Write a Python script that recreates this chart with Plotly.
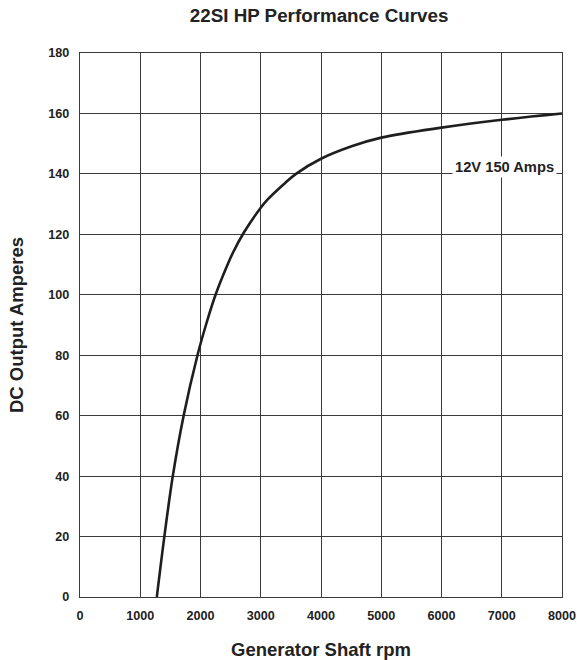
import plotly.graph_objects as go

# curve (rpm vs DC output amps)
rpm = [1275, 1400, 1540, 1720, 1950, 2090, 2250, 2450, 2540, 2720, 3000, 3108, 3405, 3585, 4000, 4520, 5000, 6000, 7000, 8000]
amps = [0, 20, 40, 60, 80, 90, 100, 110, 114, 120.6, 128.8, 131.4, 137, 140, 145, 149.2, 152, 155.3, 157.9, 160]

x_ticks = [0, 1000, 2000, 3000, 4000, 5000, 6000, 7000, 8000]
y_ticks = [0, 20, 40, 60, 80, 100, 120, 140, 160, 180]

label_text = "12V 150 Amps"
label_rpm = 7040
label_amps = 140

font_family = "Liberation Sans, Arial, Helvetica, sans-serif"
grid_col = "#3a3a3a"
text_col = "#222"

fig = go.Figure()
fig.add_trace(go.Scatter(x=rpm, y=amps, mode="lines",
                         line=dict(color="#1e1e1e", width=2.6, shape="spline", smoothing=1.0),
                         showlegend=False, hoverinfo="skip"))

fig.add_annotation(x=label_rpm, y=label_amps, text="<b>" + label_text + "</b>",
                   showarrow=False, xanchor="center", yanchor="middle", yshift=7,
                   bgcolor="white", borderpad=2,
                   font=dict(family=font_family, size=14.7, color=text_col))

fig.update_xaxes(range=[0, 8000], tickvals=x_ticks, ticktext=["<b>%d</b>" % v for v in x_ticks],
                 showgrid=True, gridcolor=grid_col, gridwidth=1,
                 showline=True, linecolor=grid_col, linewidth=1.2, mirror=True,
                 zeroline=False, ticks="outside", ticklen=7, tickcolor="rgba(0,0,0,0)",
                 automargin=False,
                 tickfont=dict(family=font_family, size=12.6, color=text_col),
                 title=dict(text="<b>Generator Shaft rpm</b>", standoff=20,
                            font=dict(family=font_family, size=18.5, color=text_col)))
fig.update_yaxes(range=[0, 180], tickvals=y_ticks, ticktext=["<b>%d</b>" % v for v in y_ticks],
                 showgrid=True, gridcolor=grid_col, gridwidth=1,
                 showline=True, linecolor=grid_col, linewidth=1.2, mirror=True,
                 zeroline=False, ticks="outside", ticklen=7, tickcolor="rgba(0,0,0,0)",
                 automargin=False,
                 tickfont=dict(family=font_family, size=12.6, color=text_col),
                 title=dict(text="<b>DC Output Amperes</b>", standoff=19,
                            font=dict(family=font_family, size=18.5, color=text_col)))

fig.update_layout(width=577, height=660,
                  margin=dict(l=80, r=15, t=53, b=63, autoexpand=False),
                  paper_bgcolor="white", plot_bgcolor="white",
                  title=dict(text="<b>22SI HP Performance Curves</b>", x=0.553, xanchor="center",
                             y=0.976, yanchor="middle",
                             font=dict(family=font_family, size=18.8, color=text_col)))

# page body has a default 8px margin which shifts the figure; drop it
fig.write_html("out.html", config={"displayModeBar": False},
               post_script="document.body.style.margin='0';")
